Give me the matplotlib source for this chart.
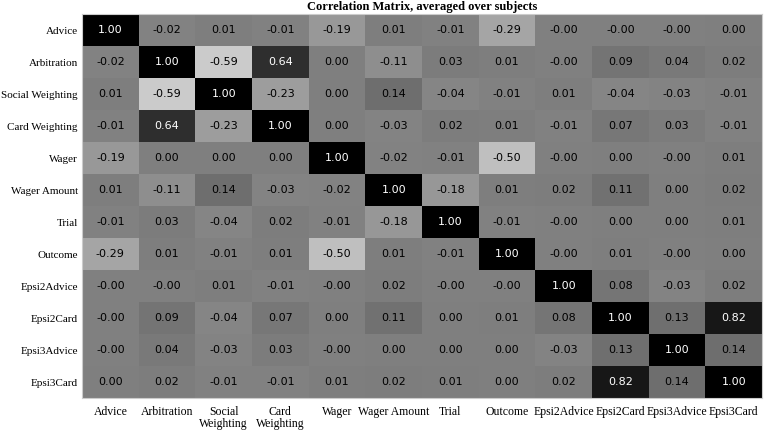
import numpy as np
import matplotlib
matplotlib.use("Agg")
import matplotlib.pyplot as plt

labels = ["Advice", "Arbitration", "Social Weighting", "Card Weighting", "Wager",
          "Wager Amount", "Trial", "Outcome", "Epsi2Advice", "Epsi2Card",
          "Epsi3Advice", "Epsi3Card"]
xlabels = ["Advice", "Arbitration", "Social\nWeighting", "Card\nWeighting", "Wager",
           "Wager Amount", "Trial", "Outcome", "Epsi2Advice", "Epsi2Card",
           "Epsi3Advice", "Epsi3Card"]

# -0.004 stands for values shown as "-0.00"
corr = np.array([
    [1.00, -0.02, 0.01, -0.01, -0.19, 0.01, -0.01, -0.29, -0.004, -0.004, -0.004, 0.00],
    [-0.02, 1.00, -0.59, 0.64, 0.00, -0.11, 0.03, 0.01, -0.004, 0.09, 0.04, 0.02],
    [0.01, -0.59, 1.00, -0.23, 0.00, 0.14, -0.04, -0.01, 0.01, -0.04, -0.03, -0.01],
    [-0.01, 0.64, -0.23, 1.00, 0.00, -0.03, 0.02, 0.01, -0.01, 0.07, 0.03, -0.01],
    [-0.19, 0.00, 0.00, 0.00, 1.00, -0.02, -0.01, -0.50, -0.004, 0.00, -0.004, 0.01],
    [0.01, -0.11, 0.14, -0.03, -0.02, 1.00, -0.18, 0.01, 0.02, 0.11, 0.00, 0.02],
    [-0.01, 0.03, -0.04, 0.02, -0.01, -0.18, 1.00, -0.01, -0.004, 0.00, 0.00, 0.01],
    [-0.29, 0.01, -0.01, 0.01, -0.50, 0.01, -0.01, 1.00, -0.004, 0.01, -0.004, 0.00],
    [-0.004, -0.004, 0.01, -0.01, -0.004, 0.02, -0.004, -0.004, 1.00, 0.08, -0.03, 0.02],
    [-0.004, 0.09, -0.04, 0.07, 0.00, 0.11, 0.00, 0.01, 0.08, 1.00, 0.13, 0.82],
    [-0.004, 0.04, -0.03, 0.03, -0.004, 0.00, 0.00, 0.00, -0.03, 0.13, 1.00, 0.14],
    [0.00, 0.02, -0.01, -0.01, 0.01, 0.02, 0.01, 0.00, 0.02, 0.82, 0.14, 1.00],
])

fig = plt.figure(figsize=(7.64, 4.34), dpi=100)
ax = fig.add_axes([82 / 764, 1 - 398 / 434, 680 / 764, 384 / 434])
ax.imshow(corr, cmap="gray_r", vmin=-1, vmax=1, aspect="auto", interpolation="nearest")

n = len(labels)
for i in range(n):
    for j in range(n):
        v = corr[i, j]
        ax.text(j, i, "{:.2f}".format(v), ha="center", va="center",
                fontsize=8, family="DejaVu Sans",
                color="white" if v > 0.5 else "black")

ax.set_xticks(range(n))
ax.set_xticklabels(xlabels, family="Liberation Serif", fontsize=8.5, linespacing=1.0)
ax.set_yticks(range(n))
ax.set_yticklabels(labels, family="Liberation Serif", fontsize=8)
ax.tick_params(axis="x", length=0, pad=6)
ax.tick_params(axis="y", length=0, pad=3)
for s in ax.spines.values():
    s.set_color("#cccccc")
    s.set_linewidth(0.8)

ax.set_title("Correlation Matrix, averaged over subjects", family="Liberation Serif",
             fontsize=9, fontweight="bold", pad=3)

fig.savefig("out.png", dpi=100)
